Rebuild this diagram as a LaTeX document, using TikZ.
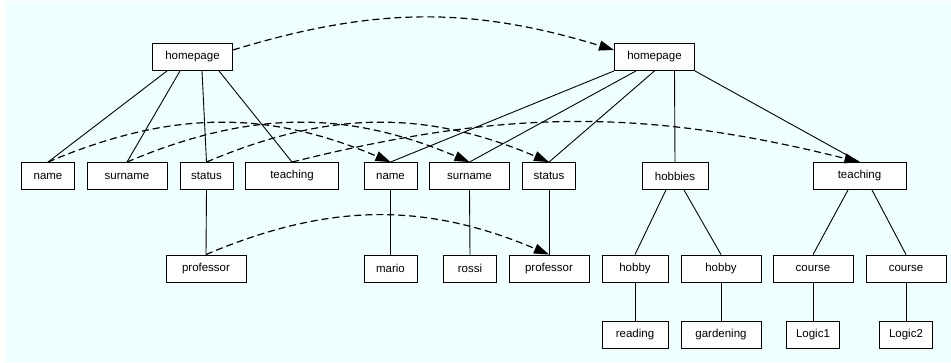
\documentclass[tikz,border=0pt]{standalone}
\usepackage{fontspec}
\setmainfont{Liberation Sans}
\usetikzlibrary{arrows.meta}
\definecolor{bgcyan}{HTML}{F0FFFF}

\begin{document}
\begin{tikzpicture}[
    x = 1pt,
    y = -1pt,
    > = {Triangle[length=15pt, width=10pt]},
    box/.style = {draw, rectangle, line width = 0.9pt, fill = white,
      minimum height = 27pt, inner sep = 0pt,
      font = \fontsize{11.5pt}{13pt}\selectfont},
    narrow/.style = {minimum width = 53pt},
    mid/.style = {minimum width = 66pt},
    wide/.style = {minimum width = 80pt},
    wider/.style = {minimum width = 93pt},
    link/.style = {draw, line width = 0.9pt, -, black},
    refer/.style = {draw, line width = 1.2pt, ->, black,
      dash pattern = on 7pt off 4pt},
    ]

    \useasboundingbox (0, 0) rectangle (951, 362);
    \fill[bgcyan] (5, 1) rectangle (951, 362);

    % first page (left tree)
    \node[box, wide]   (hpL)    at (192.5, 57)  {homepage};
    \node[box, narrow] (nameL)  at (48, 176)    {name};
    \node[box, wide]   (surL)   at (127, 176)   {surname};
    \node[box, narrow] (statL)  at (206.5, 176) {status};
    \node[box, wider]  (teachL) at (292, 176)   {teaching};
    \node[box, wide]   (profL)  at (206, 268.5) {professor};

    % second page (right tree)
    \node[box, wide]   (hpR)     at (654.5, 57)  {homepage};
    \node[box, narrow] (nameR)   at (390.5, 176) {name};
    \node[box, wide]   (surR)    at (469.5, 176) {surname};
    \node[box, narrow] (statR)   at (549, 176)   {status};
    \node[box, mid]    (hobbies) at (675, 176)   {hobbies};
    \node[box, wider]  (teachR)  at (859.5, 176) {teaching};
    \node[box, narrow] (mario)   at (390.5, 268.5) {mario};
    \node[box, narrow] (rossi)   at (470, 268.5)   {rossi};
    \node[box, wide]   (profR)   at (549, 268.5)   {professor};
    \node[box, mid]    (hobA)    at (635, 268.5)   {hobby};
    \node[box, wide]   (hobB)    at (721, 268.5)   {hobby};
    \node[box, wide]   (courA)   at (813, 268.5)   {course};
    \node[box, wide]   (courB)   at (906, 268.5)   {course};
    \node[box, mid]    (reading) at (635, 334.5)   {reading};
    \node[box, wide]   (garden)  at (721, 334.5)   {gardening};
    \node[box, narrow] (logA)    at (813, 334.5)   {Logic1};
    \node[box, narrow] (logB)    at (906, 334.5)   {Logic2};

    % tree edges, left
    \draw[link] ([xshift=-25.5pt]hpL.south) -- (nameL.north);
    \draw[link] ([xshift=-12.5pt]hpL.south) -- (surL.north);
    \draw[link] ([xshift=9.5pt]hpL.south) -- (statL.north);
    \draw[link] ([xshift=26.5pt]hpL.south) -- (teachL.north);
    \draw[link] (statL.south) -- (profL.north);

    % tree edges, right
    \draw[link] (hpR.south west) -- (nameR.north);
    \draw[link] ([xshift=-18.5pt]hpR.south) -- (surR.north);
    \draw[link] (hpR.south) -- (statR.north);
    \draw[link] ([xshift=20pt]hpR.south) -- (hobbies.north);
    \draw[link] (hpR.south east) -- (teachR.north);
    \draw[link] (nameR.south) -- (mario.north);
    \draw[link] (surR.south) -- (rossi.north);
    \draw[link] (statR.south) -- (profR.north);
    \draw[link] ([xshift=-9pt]hobbies.south) -- (hobA.north);
    \draw[link] ([xshift=9pt]hobbies.south) -- (hobB.north);
    \draw[link] ([xshift=-11.5pt]teachR.south) -- (courA.north);
    \draw[link] ([xshift=12.5pt]teachR.south) -- (courB.north);
    \draw[link] (hobA.south) -- (reading.north);
    \draw[link] (hobB.south) -- (garden.north);
    \draw[link] (courA.south) -- (logA.north);
    \draw[link] (courB.south) -- (logB.north);

    % dashed arrows from the left page to the right page
    \draw[refer] ([yshift=7pt]hpL.east) to[bend left=17] ([yshift=7pt]hpR.west);
    \draw[refer] (nameL.north) to[bend left=23] (nameR.north);
    \draw[refer] (surL.north) to[bend left=23] (surR.north);
    \draw[refer] (statL.north) to[bend left=23] (statR.north);
    \draw[refer] (teachL.north) to[bend left=14] (teachR.north);
    \draw[refer] (profL.north) to[bend left=23] (profR.north);

\end{tikzpicture}
\end{document}
